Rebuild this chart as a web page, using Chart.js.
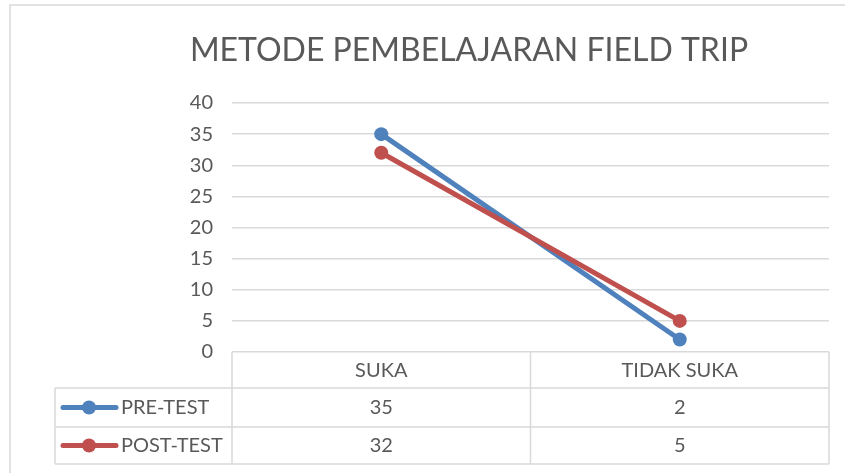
<!DOCTYPE html>
<html>
<head>
<meta charset="utf-8">
<script src="https://cdn.jsdelivr.net/npm/chart.js@4"></script>
<style>
  html, body { margin: 0; padding: 0; background: #fff; }
  #wrap { width: 845px; height: 473px; }
</style>
</head>
<body>
<div id="wrap"><canvas id="chart" width="845" height="473"></canvas></div>
<script>
var categories = ["SUKA", "TIDAK SUKA"];
var seriesNames = ["PRE-TEST", "POST-TEST"];
var preTest = [35, 2];
var postTest = [32, 5];
var yMin = 0, yMax = 40, yStep = 5;
var chartTitle = "METODE PEMBELAJARAN FIELD TRIP";

var textColor = "#595959";
var gridColor = "#d9d9d9";
var fontFamily = "Lato, 'Open Sans', sans-serif";
var labelSize = 20;
var colors = ["#4f81bd", "#c0504d"];

// draws the outer frame, the title and the data table below the plot (Excel style)
var dataTablePlugin = {
    id: "dataTable",
    afterDraw: function(chart) {
        var c = chart.ctx;
        var area = chart.chartArea;
        var x = chart.scales.x;
        var left = 55;
        var rowTops = [area.bottom, 388, 427, 464];
        var series = [preTest, postTest];

        c.save();
        // outer frame
        c.strokeStyle = gridColor;
        c.lineWidth = 1.5;
        c.beginPath();
        c.moveTo(10, 473); c.lineTo(10, 5); c.lineTo(845, 5);
        c.stroke();

        // title
        c.fillStyle = textColor;
        c.font = "32px " + fontFamily;
        c.textAlign = "center";
        c.textBaseline = "middle";
        c.fillText(chartTitle, 469, 51);

        // table lines
        c.beginPath();
        for (var i = 1; i < rowTops.length; i++) {
            c.moveTo(left, rowTops[i]); c.lineTo(area.right, rowTops[i]);
        }
        c.moveTo(left, rowTops[1]); c.lineTo(left, rowTops[3]);
        c.moveTo(area.left, area.bottom); c.lineTo(area.left, rowTops[3]);
        var colW = (area.right - area.left) / categories.length;
        for (var k = 1; k <= categories.length; k++) {
            var vx = area.left + colW * k;
            c.moveTo(vx, area.bottom); c.lineTo(vx, rowTops[3]);
        }
        c.stroke();

        c.font = labelSize + "px " + fontFamily;
        for (var s = 0; s < series.length; s++) {
            var cy = (rowTops[s + 1] + rowTops[s + 2]) / 2;
            // legend key
            c.strokeStyle = colors[s];
            c.lineWidth = 5;
            c.lineCap = "round";
            c.beginPath();
            c.moveTo(63, cy); c.lineTo(116, cy);
            c.stroke();
            c.fillStyle = colors[s];
            c.beginPath();
            c.arc(89, cy, 7, 0, Math.PI * 2);
            c.fill();
            c.fillStyle = textColor;
            c.textAlign = "left";
            c.fillText(seriesNames[s], 121, cy);
            // values
            c.textAlign = "center";
            for (var j = 0; j < categories.length; j++) {
                c.fillText(String(series[s][j]), x.getPixelForValue(j), cy);
            }
        }
        c.restore();
    }
};

new Chart(document.getElementById("chart"), {
    type: "line",
    data: {
        labels: categories,
        datasets: [{
            label: seriesNames[0],
            data: preTest,
            borderColor: colors[0],
            backgroundColor: colors[0],
            order: 1
        }, {
            label: seriesNames[1],
            data: postTest,
            borderColor: colors[1],
            backgroundColor: colors[1],
            order: 0
        }]
    },
    options: {
        responsive: false,
        animation: false,
        layout: { padding: { left: 10, right: 16, top: 103, bottom: 85 } },
        elements: {
            line: { borderWidth: 5, tension: 0, borderCapStyle: "round" },
            point: { radius: 7, borderWidth: 0, hoverRadius: 7 }
        },
        plugins: {
            legend: { display: false },
            tooltip: { enabled: false },
            title: { display: false }
        },
        scales: {
            x: {
                offset: true,
                grid: { display: false, drawTicks: false },
                border: { display: false },
                ticks: {
                    color: textColor,
                    padding: 7,
                    font: { family: fontFamily, size: labelSize }
                },
                afterFit: function(scale) { scale.height = 36; }
            },
            y: {
                min: yMin,
                max: yMax,
                grid: { color: gridColor, lineWidth: 1.5, drawTicks: false },
                border: { display: false },
                ticks: {
                    stepSize: yStep,
                    color: textColor,
                    padding: 19,
                    font: { family: fontFamily, size: labelSize }
                },
                afterFit: function(scale) { scale.width = 222; }
            }
        }
    },
    plugins: [dataTablePlugin]
});
</script>
</body>
</html>
